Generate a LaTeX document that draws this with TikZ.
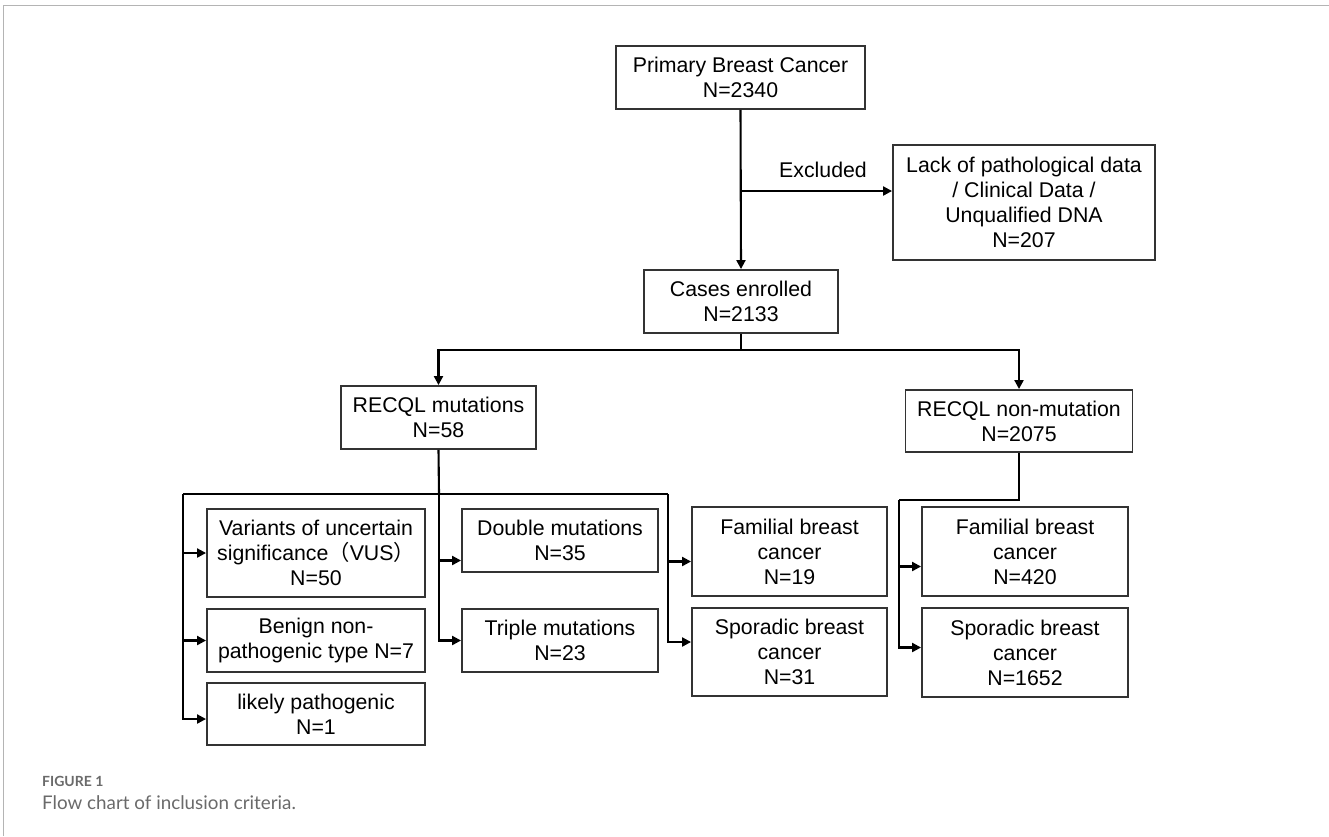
\documentclass[tikz,border=0pt]{standalone}
\usepackage{fontspec}
\usepackage{tikz}
\usepackage{xcolor}
\usetikzlibrary{calc,arrows.meta}
\setmainfont{Liberation Sans}
\newfontfamily\cjk{Noto Sans CJK SC}
\newfontfamily\capfont{Lato}
\definecolor{boxline}{HTML}{333333}
\definecolor{framegray}{HTML}{B4B4B4}
\definecolor{captiongray}{HTML}{6A6A6A}
\colorlet{linkcolor}{black}
\tikzstyle{flowbox} = [
    draw=boxline,
    line width=1.9pt,
    rectangle,
    inner sep=0pt,
    align=center,
    font=\fontsize{21.3}{25}\selectfont
    ]
\tikzstyle{link} = [
    draw=linkcolor,
    line width=2.1pt
    ]
\tikzstyle{arrowlink} = [
    link,
    -{Triangle[length=9pt,width=9pt]}
    ]

\begin{document}
\begin{tikzpicture}[x=1pt,y=-1pt]
\useasboundingbox (0,0) rectangle (1329,836);
\fill[white] (0,0) rectangle (1329,836);
\draw[framegray, line width=1.5pt] (3.5,836) -- (3.5,5.5) -- (1329,5.5);

\node[flowbox, minimum width=249pt, minimum height=63pt] (primary) at (740.5,77.5) {Primary Breast Cancer\\N=2340};
\node[flowbox, minimum width=262pt, minimum height=115pt] (lack) at (1024,202.5) {Lack of pathological data\\/ Clinical Data /\\Unqualified DNA\\N=207};
\node[flowbox, minimum width=194pt, minimum height=63pt] (cases) at (741,301.5) {Cases enrolled\\N=2133};
\node[flowbox, minimum width=195pt, minimum height=63pt] (mut) at (438.5,417.5) {RECQL mutations\\N=58};
\node[flowbox, minimum width=227pt, minimum height=62pt] (nonmut) at (1019,421) {RECQL non-mutation\\N=2075};

\node[flowbox, minimum width=218pt, minimum height=88pt] (vus) at (316,553) {Variants of uncertain\\significance{\cjk （}VUS{\cjk ）}\\N=50};
\node[flowbox, minimum width=218pt, minimum height=63pt] (benign) at (316,640.5) {Benign non-\\pathogenic type N=7};
\node[flowbox, minimum width=218pt, minimum height=62pt] (likely) at (316,714) {likely pathogenic\\N=1};
\node[flowbox, minimum width=196pt, minimum height=63pt] (double) at (560,540.5) {Double mutations\\N=35};
\node[flowbox, minimum width=196pt, minimum height=63pt] (triple) at (560,640.5) {Triple mutations\\N=23};
\node[flowbox, minimum width=195pt, minimum height=89pt] (famM) at (789.5,551.5) {Familial breast\\cancer\\N=19};
\node[flowbox, minimum width=195pt, minimum height=88pt] (sporM) at (789.5,652) {Sporadic breast\\cancer\\N=31};
\node[flowbox, minimum width=206pt, minimum height=89pt] (famN) at (1025,551.5) {Familial breast\\cancer\\N=420};
\node[flowbox, minimum width=206pt, minimum height=89pt] (sporN) at (1025,652.5) {Sporadic breast\\cancer\\N=1652};

% exclusion branch
\coordinate (excl) at (741,191);
\draw[arrowlink] (primary.south) -- (cases.north);
\draw[arrowlink] (excl) -- (excl -| lack.west);
\node[font=\fontsize{21.3}{25}\selectfont] (excltext) at (823,170) {Excluded};

% split of enrolled cases
\coordinate (split) at (741,350);
\draw[link] (cases.south) -- (split);
\draw[arrowlink] (split) -| (mut.north);
\draw[arrowlink] (split) -| (nonmut.north);

% mutation rails
\coordinate (mjoin) at (439,494);
\coordinate (lrail) at (183,494);
\coordinate (rrail) at (668,494);
\draw[link] (mut.south) -- (mjoin);
\draw[link] (lrail) -- (rrail);
\draw[arrowlink] (lrail) |- (vus.west);
\draw[arrowlink] (lrail) |- (benign.west);
\draw[arrowlink] (lrail) |- ([yshift=-5pt]likely.west);
\draw[arrowlink] (mjoin) |- ([yshift=-20pt]double.west);
\draw[arrowlink] (mjoin) |- (triple.west);
\draw[arrowlink] (rrail) |- ([yshift=-10pt]famM.west);
\draw[arrowlink] (rrail) |- ([yshift=10pt]sporM.west);

% non-mutation rail
\coordinate (njoin) at (1019,500);
\coordinate (nrail) at (899,500);
\draw[link] (nonmut.south) -- (njoin) -- (nrail);
\draw[arrowlink] (nrail) |- ([yshift=-15pt]famN.west);
\draw[arrowlink] (nrail) |- ([yshift=5pt]sporN.west);

\node[anchor=west, inner sep=0pt, text=captiongray, font=\capfont\bfseries\fontsize{14}{16}\selectfont] (figlabel) at (42,781) {FIGURE 1};
\node[anchor=west, inner sep=0pt, text=captiongray, font=\capfont\fontsize{18.8}{22}\selectfont] (figcaption) at (42,803) {Flow chart of inclusion criteria.};
\end{tikzpicture}
\end{document}
